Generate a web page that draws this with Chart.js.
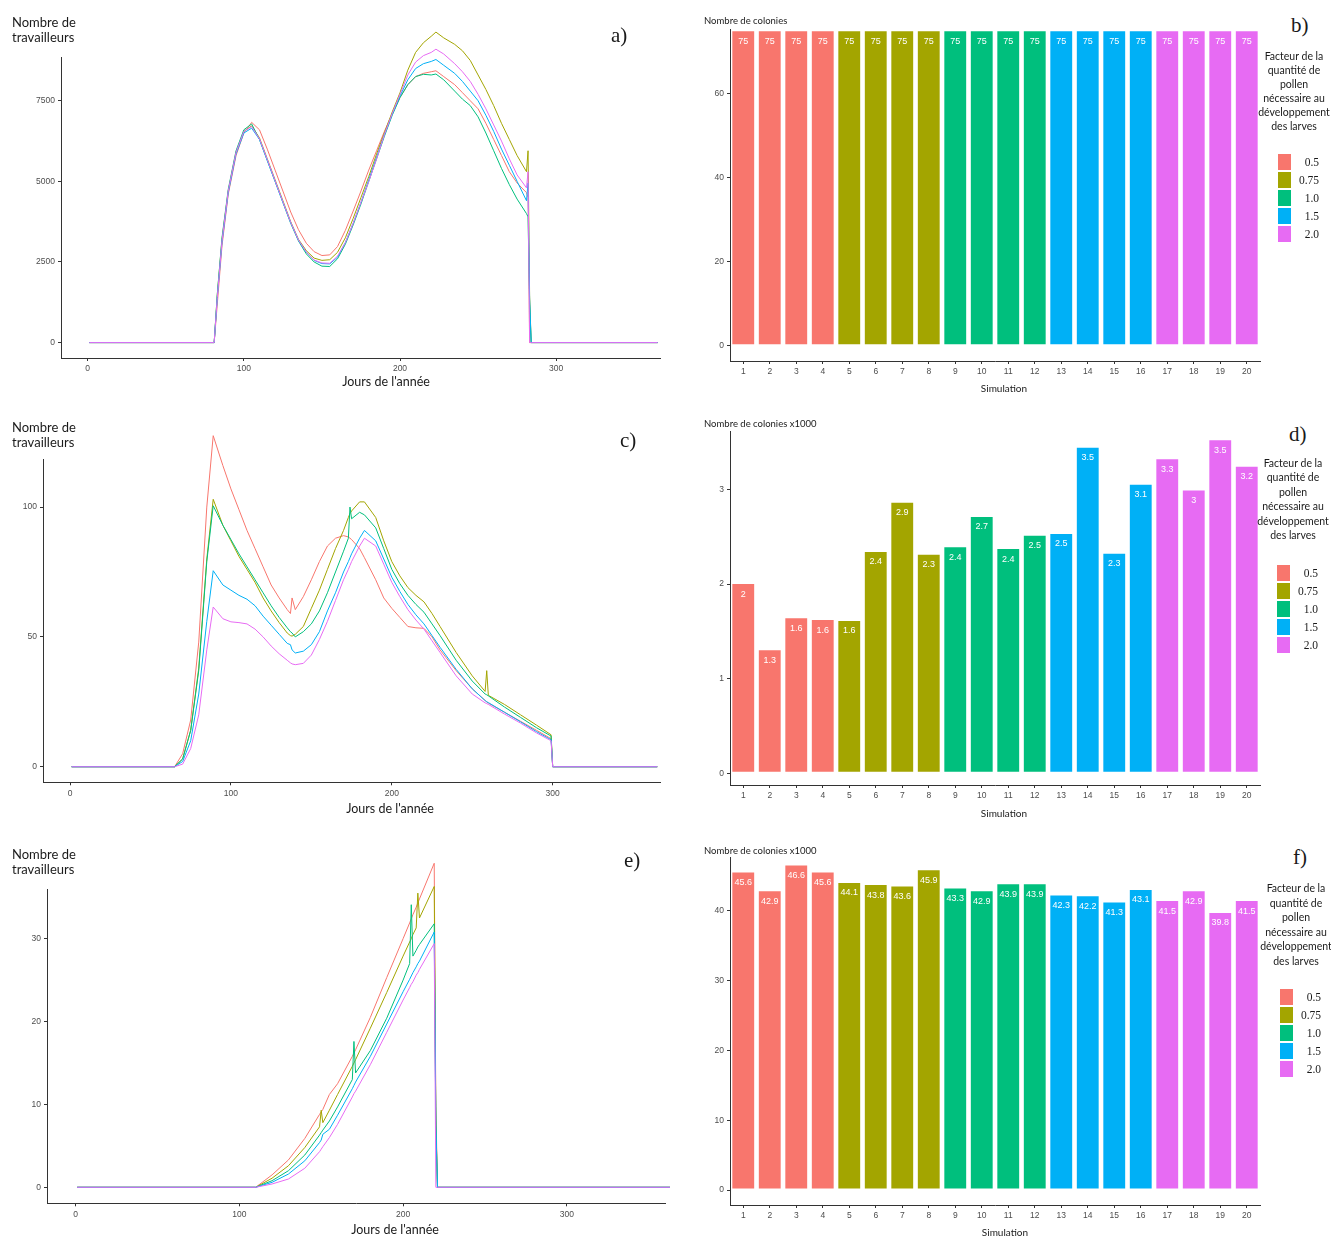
<!doctype html>
<html lang="fr">
  <head>
    <meta charset="UTF-8" />
    <meta name="viewport" content="width=device-width, initial-scale=1.0" />
    <title>Travailleurs et colonies</title>
    <script src="https://cdn.jsdelivr.net/npm/chart.js"></script>
    <style>
      body {
        margin: 0;
        width: 1331px;
        height: 1237px;
        position: relative;
        overflow: hidden;
        background: #fff;
        color: #1a1a1a;
        font-family: Lato, "Open Sans", sans-serif;
      }
      .box {
        position: absolute;
      }
      .ytitle {
        position: absolute;
        left: 12px;
        font-size: 13px;
        line-height: 15px;
      }
      .xtitle {
        position: absolute;
        transform: translateX(-50%);
        white-space: nowrap;
        line-height: 16px;
      }
      .ctitle {
        position: absolute;
        left: 704px;
        font-size: 9.5px;
        line-height: 12px;
      }
      .tag {
        position: absolute;
        font-family: "Liberation Serif", serif;
        font-size: 21px;
        line-height: 21px;
      }
      .legend {
        position: absolute;
        width: 76px;
        height: 260px;
      }
      .legend .ltitle {
        position: absolute;
        left: 0;
        width: 76px;
        font-size: 10.5px;
        text-align: center;
      }
      .legend .key {
        position: absolute;
        left: 21px;
        width: 15px;
        height: 18px;
        box-shadow: inset 0 0 0 1px #fff;
      }
      .legend .lab {
        position: absolute;
        right: 13px;
        font-family: "Liberation Serif", serif;
        font-size: 11.5px;
        line-height: 18px;
      }
    </style>
  </head>
  <body>
    <div class="box" style="left: 0; top: 0; width: 665px; height: 400px"><canvas id="chartA"></canvas></div>
    <div class="box" style="left: 690px; top: 0; width: 575px; height: 400px"><canvas id="chartB"></canvas></div>
    <div class="box" style="left: 0; top: 410px; width: 665px; height: 414.3px"><canvas id="chartC"></canvas></div>
    <div class="box" style="left: 690px; top: 410px; width: 575px; height: 414px"><canvas id="chartD"></canvas></div>
    <div class="box" style="left: 0; top: 840px; width: 670px; height: 405.3px"><canvas id="chartE"></canvas></div>
    <div class="box" style="left: 690px; top: 835px; width: 575px; height: 409px"><canvas id="chartF"></canvas></div>

    <div class="ytitle" style="top: 15px">Nombre de<br />travailleurs</div>
    <div class="ytitle" style="top: 420px">Nombre de<br />travailleurs</div>
    <div class="ytitle" style="top: 847px">Nombre de<br />travailleurs</div>

    <div class="xtitle" style="left: 386px; top: 374px; font-size: 12.5px">Jours de l'année</div>
    <div class="xtitle" style="left: 390px; top: 801px; font-size: 12.5px">Jours de l'année</div>
    <div class="xtitle" style="left: 395px; top: 1221.5px; font-size: 12.5px">Jours de l'année</div>
    <div class="xtitle" style="left: 1004px; top: 379.5px; font-size: 10px">Simulation</div>
    <div class="xtitle" style="left: 1004px; top: 804.5px; font-size: 10px">Simulation</div>
    <div class="xtitle" style="left: 1005px; top: 1224px; font-size: 10px">Simulation</div>

    <div class="ctitle" style="top: 14.7px">Nombre de colonies</div>
    <div class="ctitle" style="top: 418.3px">Nombre de colonies x1000</div>
    <div class="ctitle" style="top: 844.8px">Nombre de colonies x1000</div>

    <div class="tag" style="left: 611px; top: 24.5px">a)</div>
    <div class="tag" style="left: 1291px; top: 14.5px">b)</div>
    <div class="tag" style="left: 620px; top: 429.5px">c)</div>
    <div class="tag" style="left: 1289px; top: 423.5px">d)</div>
    <div class="tag" style="left: 624px; top: 849.5px">e)</div>
    <div class="tag" style="left: 1293px; top: 846.5px">f)</div>

    <div class="legend" id="legendB" style="left: 1256px; top: 0"></div>
    <div class="legend" id="legendD" style="left: 1255px; top: 410px"></div>
    <div class="legend" id="legendF" style="left: 1258px; top: 835px"></div>

    <script>
      // colour scale: pollen factor
      const factors = ["0.5", "0.75", "1.0", "1.5", "2.0"];
      const colors = ["#F8766D", "#A3A500", "#00BF7D", "#00B0F6", "#E76BF3"];
      const legendTitle = ["Facteur de la", "quantité de", "pollen", "nécessaire au", "développement", "des larves"];

      // bar charts b, d, f
      const simulations = ["1", "2", "3", "4", "5", "6", "7", "8", "9", "10", "11", "12", "13", "14", "15", "16", "17", "18", "19", "20"];
      const simFactor = [0, 0, 0, 0, 1, 1, 1, 1, 2, 2, 2, 2, 3, 3, 3, 3, 4, 4, 4, 4];
      const coloniesB = [75, 75, 75, 75, 75, 75, 75, 75, 75, 75, 75, 75, 75, 75, 75, 75, 75, 75, 75, 75];
      const labelsB = ["75", "75", "75", "75", "75", "75", "75", "75", "75", "75", "75", "75", "75", "75", "75", "75", "75", "75", "75", "75"];
      const coloniesD = [2.01, 1.31, 1.65, 1.63, 1.62, 2.35, 2.87, 2.32, 2.4, 2.72, 2.38, 2.52, 2.54, 3.45, 2.33, 3.06, 3.33, 3.0, 3.53, 3.25];
      const labelsD = ["2", "1.3", "1.6", "1.6", "1.6", "2.4", "2.9", "2.3", "2.4", "2.7", "2.4", "2.5", "2.5", "3.5", "2.3", "3.1", "3.3", "3", "3.5", "3.2"];
      const coloniesF = [45.6, 42.9, 46.6, 45.6, 44.1, 43.8, 43.6, 45.9, 43.3, 42.9, 43.9, 43.9, 42.3, 42.2, 41.3, 43.1, 41.5, 42.9, 39.8, 41.5];
      const labelsF = ["45.6", "42.9", "46.6", "45.6", "44.1", "43.8", "43.6", "45.9", "43.3", "42.9", "43.9", "43.9", "42.3", "42.2", "41.3", "43.1", "41.5", "42.9", "39.8", "41.5"];

      // line chart a
      const daysA = [1, 81, 83, 86, 90, 95, 100, 105, 110, 115, 120, 125, 130, 135, 140, 145, 150, 155, 160, 165, 170, 175, 180, 185, 190, 195, 200, 205, 210, 215, 220, 223, 228, 235, 240, 245, 250, 255, 260, 265, 270, 275, 281, 282, 283, 284, 365];
      const workersA05 = [0, 0, 1200, 3000, 4600, 5800, 6500, 6830, 6600, 6000, 5350, 4700, 4050, 3500, 3080, 2820, 2700, 2720, 2980, 3480, 4080, 4700, 5350, 5950, 6550, 7100, 7600, 8000, 8250, 8350, 8400, 8430, 8250, 8000, 7750, 7500, 7250, 6800, 6300, 5800, 5300, 4950, 4650, 4500, 0, 0, 0];
      const workersA075 = [0, 0, 1500, 3200, 4700, 5900, 6550, 6720, 6350, 5700, 5050, 4400, 3750, 3200, 2850, 2620, 2550, 2570, 2800, 3250, 3850, 4500, 5150, 5850, 6500, 7150, 7750, 8450, 9000, 9300, 9500, 9630, 9450, 9250, 9050, 8750, 8300, 7850, 7350, 6800, 6300, 5800, 5300, 5950, 1470, 0, 0];
      const workersA10 = [0, 0, 1500, 3250, 4750, 5950, 6600, 6780, 6300, 5650, 5000, 4350, 3700, 3150, 2750, 2500, 2370, 2360, 2600, 3050, 3650, 4300, 5000, 5700, 6400, 7050, 7600, 8000, 8250, 8320, 8300, 8330, 8150, 7800, 7550, 7350, 7000, 6500, 5950, 5400, 4900, 4450, 4000, 3900, 1200, 0, 0];
      const workersA15 = [0, 0, 1400, 3100, 4650, 5850, 6500, 6650, 6300, 5650, 5000, 4350, 3720, 3170, 2800, 2550, 2450, 2440, 2650, 3100, 3700, 4350, 5050, 5750, 6450, 7080, 7650, 8150, 8500, 8650, 8720, 8780, 8600, 8350, 8100, 7800, 7500, 7050, 6550, 6000, 5500, 5000, 4400, 4950, 1350, 0, 0];
      const workersA20 = [0, 0, 1400, 3150, 4700, 5900, 6550, 6700, 6320, 5680, 5020, 4370, 3730, 3180, 2810, 2560, 2470, 2460, 2680, 3100, 3700, 4350, 5000, 5700, 6450, 7100, 7700, 8300, 8700, 8900, 9000, 9100, 8950, 8650, 8400, 8100, 7700, 7250, 6750, 6250, 5700, 5200, 4800, 5300, 0, 0, 0];

      // line chart c
      const daysC = [1, 65, 70, 75, 80, 85, 89, 95, 100, 105, 110, 115, 120, 125, 130, 135, 137, 138, 140, 145, 150, 155, 160, 165, 170, 173, 174, 175, 180, 183, 190, 195, 200, 205, 210, 215, 220, 225, 230, 240, 250, 258, 259, 260, 270, 280, 290, 299, 300, 365];
      const workersC05 = [0, 0, 5, 18, 48, 100, 127.5, 116, 107, 99, 91, 84, 77, 70, 65, 60.5, 59, 65, 60.5, 65.5, 72, 79, 85, 88, 89, 88.5, 88, 87.5, 84, 80.5, 72, 65, 61, 57.5, 54, 53.5, 53.3, 50, 45, 37, 30, 25.5, 25, 24.5, 21, 17.5, 14, 10.8, 0, 0];
      const workersC075 = [0, 0, 3, 14, 38, 80, 103, 93, 87, 81, 76, 71, 65, 60, 55.5, 51.5, 50.5, 50.3, 51, 54, 61, 68, 76, 84, 91, 96, 97.5, 98.5, 102, 102, 96, 87, 79, 73.5, 69, 66, 63.5, 59, 54, 44, 35, 29, 37, 27.5, 24, 20, 16, 12.3, 0, 0];
      const workersC10 = [0, 0, 3, 14, 37, 79, 100.5, 93, 87.5, 82, 77, 72, 67, 62, 57.5, 53.5, 52, 51.5, 50, 52, 55, 60, 67, 75, 83, 88, 100, 95.5, 98, 97, 92, 84, 76, 70.5, 66, 62.5, 59.5, 55, 50.5, 41, 33, 28, 27.7, 27.3, 23, 19, 15, 11.8, 0, 0];
      const workersC15 = [0, 0, 2, 10, 28, 56, 75.5, 70, 68, 66, 64.5, 62, 58, 54.5, 51, 47.5, 47, 45, 43.8, 44.5, 47, 52, 60, 67, 75, 79, 80.5, 82, 88, 91, 87, 80, 73, 67.5, 62.5, 58.5, 55, 50.5, 46, 37.5, 30, 25.5, 25, 24.7, 21, 17.3, 13.5, 10.4, 0, 0];
      const workersC20 = [0, 0, 1, 7, 20, 45, 61.5, 57, 55.8, 55.5, 55, 53, 50, 46.5, 43.5, 41, 40, 39.6, 39.3, 39.8, 43, 49, 56, 64, 72, 76, 77.5, 79, 85, 88, 85, 78, 71, 65.5, 60.5, 56.5, 53, 48.5, 44, 35, 28, 24.6, 24.3, 24, 20.3, 16.8, 13, 10, 0, 0];

      // line chart e
      const daysE = [1, 110, 120, 130, 140, 149, 150, 151, 155, 160, 169, 170, 171, 180, 190, 200, 204, 205, 206, 208, 209, 210, 219, 220, 221, 365];
      const workersE05 = [0, 0, 1.5, 3.3, 5.9, 8.8, 9.1, 9.4, 11.2, 12.5, 15.8, 16.2, 16.6, 20.5, 25.3, 30, 31.9, 32.4, 32.9, 33.8, 34.3, 34.8, 39.1, 9.7, 0, 0];
      const workersE075 = [0, 0, 1.1, 2.6, 4.8, 7.3, 9.3, 7.8, 9.3, 11.2, 14.6, 15, 15.4, 19.2, 23.5, 27.9, 29.6, 30, 30.5, 31.3, 35.5, 32.5, 36.3, 8, 0, 0];
      const workersE10 = [0, 0, 0.8, 2, 3.9, 6.3, 6.6, 6.9, 8, 9.7, 13, 17.6, 13.8, 16.5, 20.4, 25, 27, 34.1, 27.9, 28.6, 29, 29.3, 31.8, 7.5, 0, 0];
      const workersE15 = [0, 0, 0.6, 1.6, 3.2, 5.4, 5.7, 6.4, 7, 8.7, 11.9, 12.3, 12.7, 15.8, 19.7, 23.6, 25.1, 25.5, 25.9, 26.6, 27, 27.3, 30.8, 7.5, 0, 0];
      const workersE20 = [0, 0, 0.4, 1, 2.3, 4.3, 4.6, 4.9, 6, 7.6, 10.9, 11.3, 11.6, 14.8, 18.7, 22.6, 24.1, 24.5, 24.8, 25.6, 25.9, 26.3, 29.4, 0, 0, 0];

      // tick values
      const dayTicks = [0, 100, 200, 300];
      const ticksA = [0, 2500, 5000, 7500];
      const ticksC = [0, 50, 100];
      const ticksE = [0, 10, 20, 30];
      const ticksB = [0, 20, 40, 60];
      const ticksD = [0, 1, 2, 3];
      const ticksF = [0, 10, 20, 30, 40];

      const tickFont = { family: "'Liberation Sans', Arial, sans-serif", size: 8.5 };

      function axis(opts) {
        const isCat = opts.type === "category";
        return {
          type: opts.type,
          min: opts.min,
          max: opts.max,
          offset: isCat,
          border: { display: true, color: "#333", width: 1 },
          grid: {
            drawOnChartArea: false,
            drawTicks: true,
            tickLength: 3,
            tickColor: "#333",
            offset: false,
          },
          ticks: {
            color: "#4d4d4d",
            font: tickFont,
            padding: opts.pad,
            autoSkip: false,
            maxRotation: 0,
            callback: isCat
              ? function (v) {
                  return this.getLabelForValue(v);
                }
              : (v) => String(v),
          },
          afterBuildTicks: opts.ticks
            ? (s) => {
                s.ticks = opts.ticks.map((v) => ({ value: v }));
              }
            : undefined,
          afterFit: (s) => {
            if (opts.width) s.width = opts.width;
            if (opts.height) s.height = opts.height;
          },
        };
      }

      function lineChart(id, days, series, cfg) {
        new Chart(document.getElementById(id), {
          type: "line",
          data: {
            datasets: series.map((vals, i) => ({
              label: factors[i],
              data: days.map((d, k) => ({ x: d, y: vals[k] })),
              borderColor: colors[i],
              borderWidth: 1,
              pointRadius: 0,
              tension: 0,
              clip: false,
              order: series.length - i,
            })),
          },
          options: {
            responsive: true,
            maintainAspectRatio: false,
            animation: false,
            layout: { padding: { top: cfg.padTop, right: 5, left: 0, bottom: 0 } },
            plugins: { legend: { display: false }, tooltip: { enabled: false } },
            scales: {
              x: axis({ type: "linear", min: cfg.xMin, max: cfg.xMax, ticks: dayTicks, pad: cfg.tickPad, height: 42 }),
              y: axis({ type: "linear", min: cfg.yMin, max: cfg.yMax, ticks: cfg.yTicks, pad: 3, width: cfg.yWidth }),
            },
          },
        });
      }

      // white value labels just under the top of each bar
      const barValueLabels = {
        id: "barValueLabels",
        afterDatasetsDraw(chart) {
          const ctx = chart.ctx;
          const ds = chart.data.datasets[0];
          ctx.save();
          ctx.fillStyle = "#ffffff";
          ctx.font = "9px 'Liberation Sans Narrow', 'Liberation Sans', sans-serif";
          ctx.textAlign = "center";
          ctx.textBaseline = "middle";
          chart.getDatasetMeta(0).data.forEach((bar, i) => {
            ctx.fillText(ds.valueLabels[i], bar.x, bar.y + 11);
          });
          ctx.restore();
        },
      };

      function barChart(id, values, labels, cfg) {
        new Chart(document.getElementById(id), {
          type: "bar",
          data: {
            labels: simulations,
            datasets: [
              {
                data: values,
                valueLabels: labels,
                backgroundColor: simFactor.map((f) => colors[f]),
                borderColor: "#ffffff",
                borderWidth: 1,
                borderSkipped: false,
                barPercentage: 0.9,
                categoryPercentage: 1,
              },
            ],
          },
          options: {
            responsive: true,
            maintainAspectRatio: false,
            animation: false,
            layout: { padding: { top: cfg.padTop, right: 5, left: 0, bottom: 0 } },
            plugins: { legend: { display: false }, tooltip: { enabled: false } },
            scales: {
              x: axis({ type: "category", pad: cfg.tickPad, height: 39 }),
              y: axis({ type: "linear", min: cfg.yMin, max: cfg.yMax, ticks: cfg.yTicks, pad: 3, width: 40 }),
            },
          },
          plugins: [barValueLabels],
        });
      }

      function buildLegend(id, titleTop, lineH, keysTop) {
        const el = document.getElementById(id);
        const t = document.createElement("div");
        t.className = "ltitle";
        t.style.top = titleTop + "px";
        t.style.lineHeight = lineH + "px";
        t.innerHTML = legendTitle.join("<br>");
        el.appendChild(t);
        factors.forEach((f, i) => {
          const k = document.createElement("div");
          k.className = "key";
          k.style.top = keysTop + i * 18 + "px";
          k.style.background = colors[i];
          el.appendChild(k);
          const l = document.createElement("div");
          l.className = "lab";
          l.style.top = keysTop + i * 18 + "px";
          l.textContent = f;
          el.appendChild(l);
        });
      }

      lineChart("chartA", daysA, [workersA05, workersA075, workersA10, workersA15, workersA20], {
        padTop: 57.3, yWidth: 61, xMin: -17.1, xMax: 366.5, yMin: -478, yMax: 8848, yTicks: ticksA, tickPad: 2.5,
      });
      lineChart("chartC", daysC, [workersC05, workersC075, workersC10, workersC15, workersC20], {
        padTop: 49.3, yWidth: 43, xMin: -16.8, xMax: 366.7, yMin: -6, yMax: 118.4, yTicks: ticksC, tickPad: 3.5,
      });
      lineChart("chartE", daysE, [workersE05, workersE075, workersE10, workersE15, workersE20], {
        padTop: 49.3, yWidth: 47, xMin: -17.4, xMax: 359.9, yMin: -1.93, yMax: 35.96, yTicks: ticksE, tickPad: 3,
      });

      barChart("chartB", coloniesB, labelsB, { padTop: 29.3, yMin: -3.64, yMax: 75.2, yTicks: ticksB, tickPad: 2.5 });
      barChart("chartD", coloniesD, labelsD, { padTop: 21.7, yMin: -0.124, yMax: 3.61, yTicks: ticksD, tickPad: 3 });
      barChart("chartF", coloniesF, labelsF, { padTop: 22.7, yMin: -2.14, yMax: 47.57, yTicks: ticksF, tickPad: 2.5 });

      buildLegend("legendB", 49, 14, 152.7);
      buildLegend("legendD", 45.5, 14.6, 154.3);
      buildLegend("legendF", 46, 14.6, 153.3);
    </script>
  </body>
</html>
